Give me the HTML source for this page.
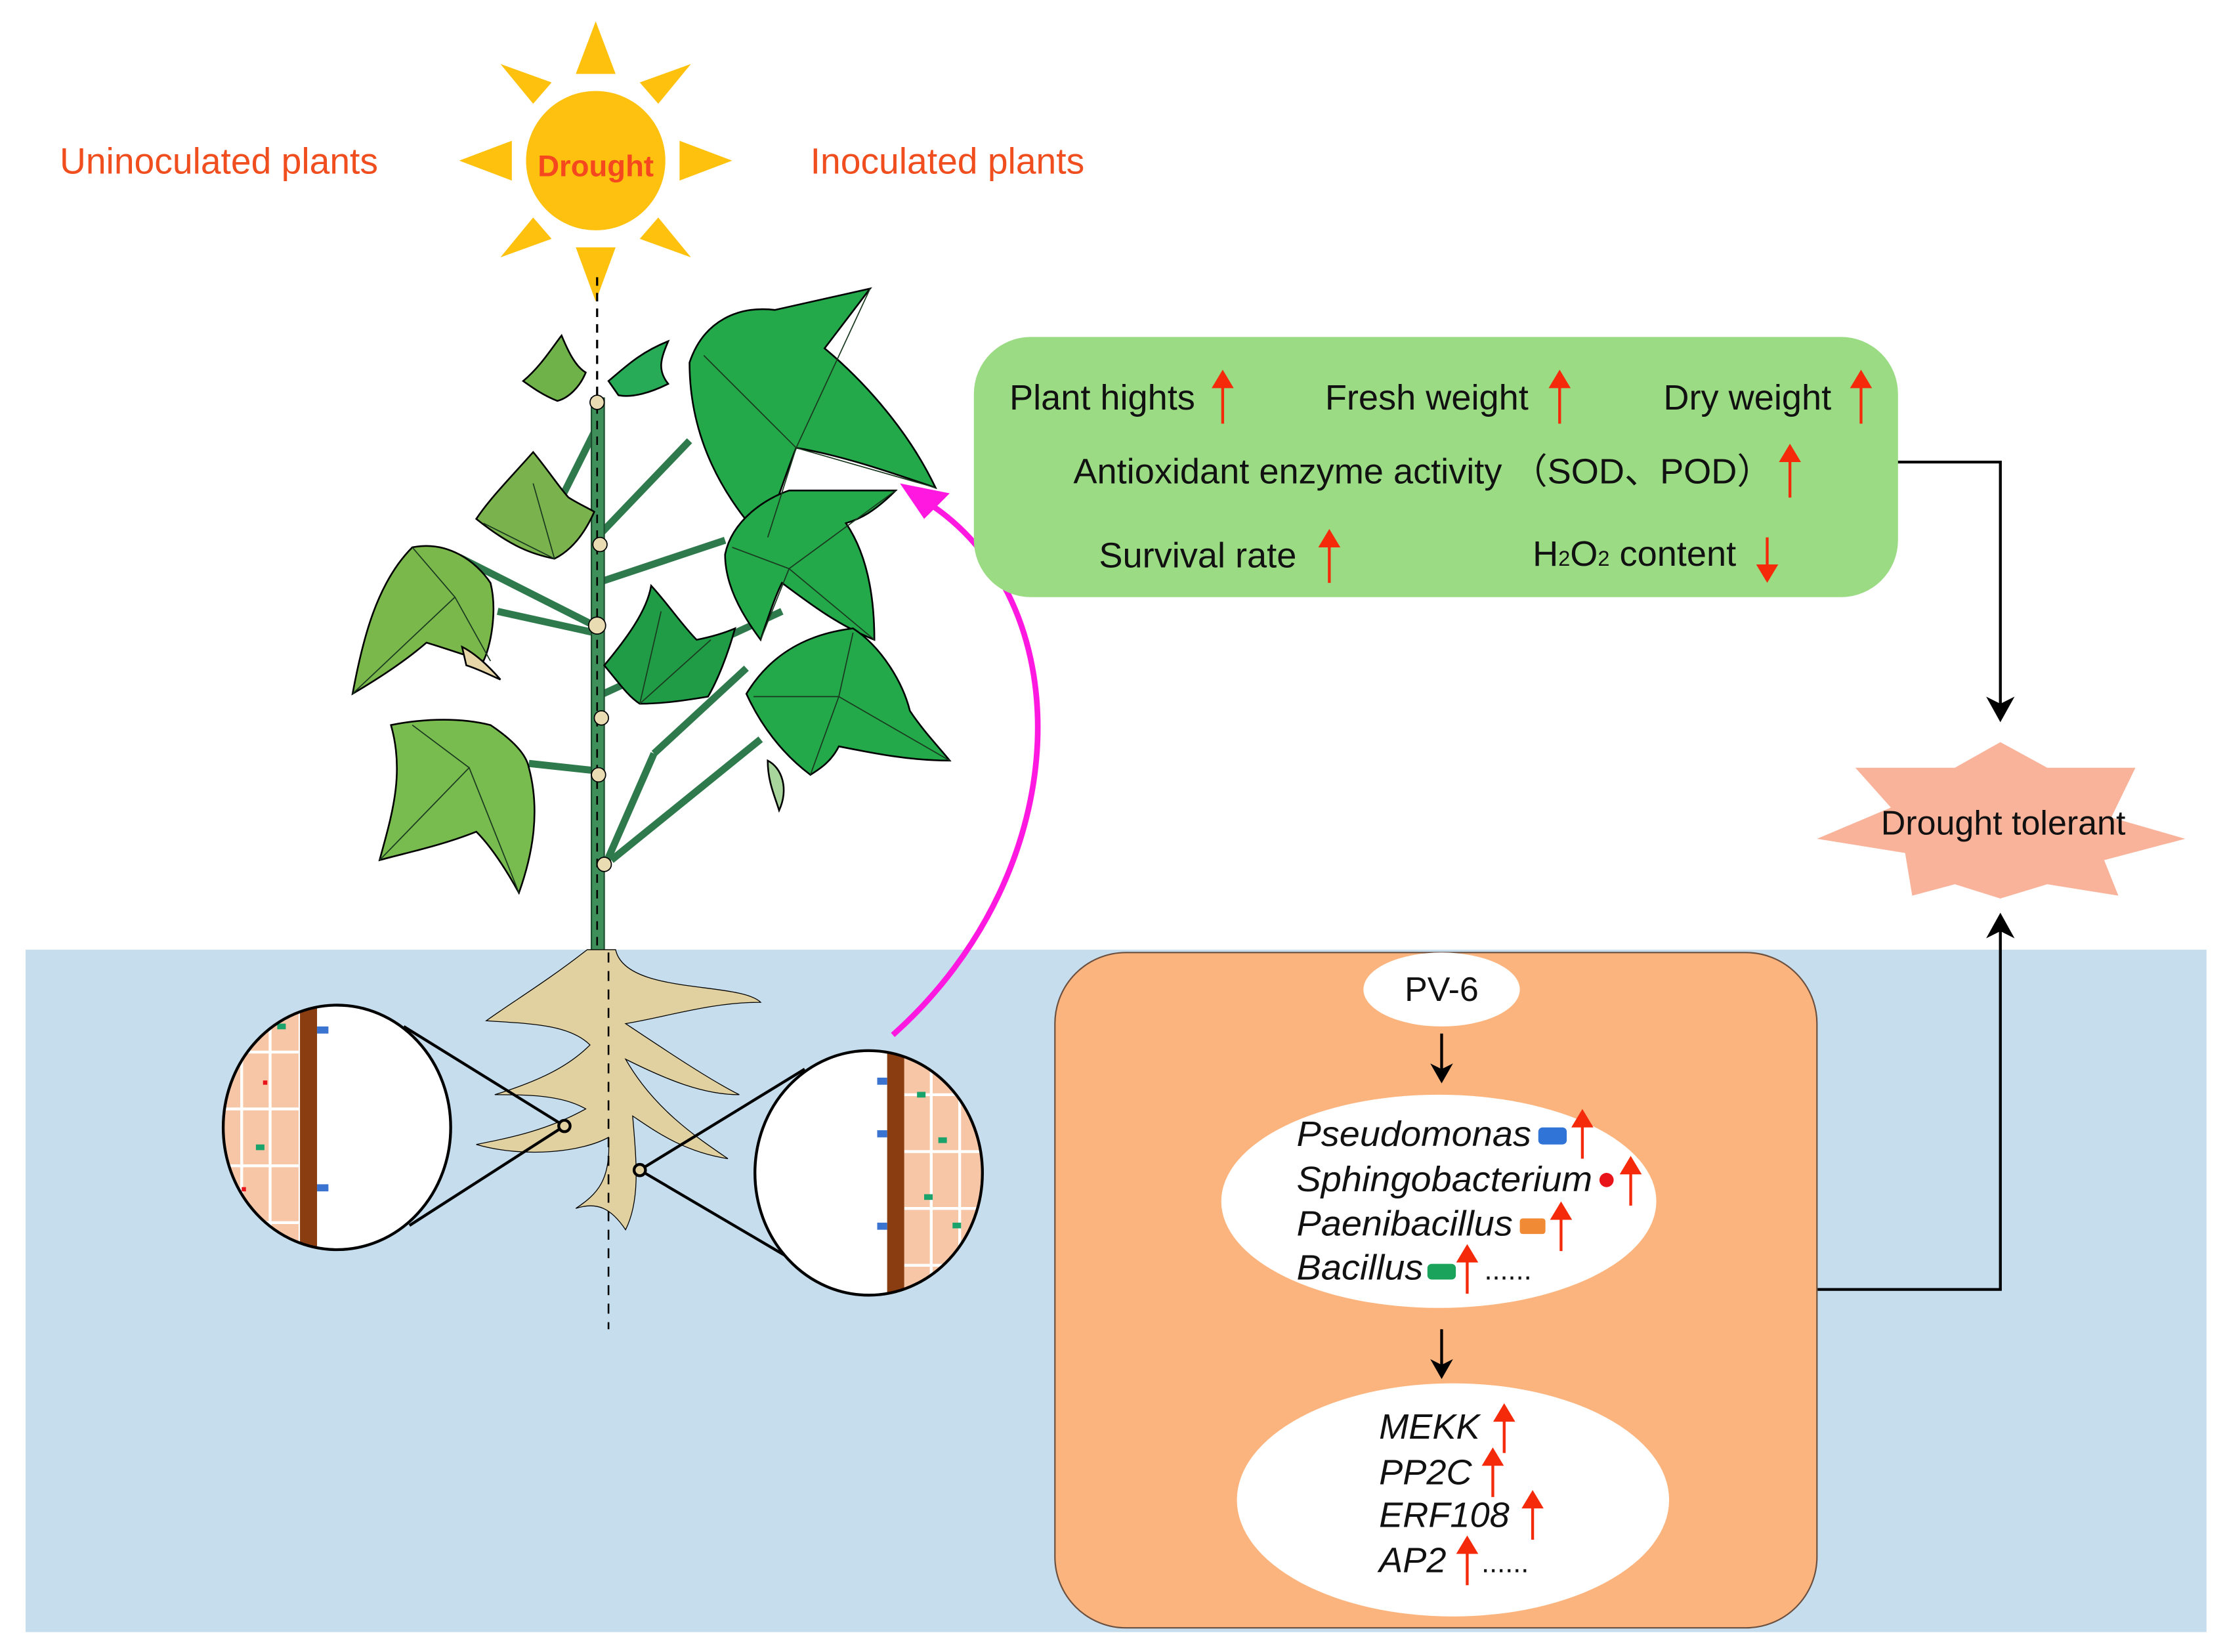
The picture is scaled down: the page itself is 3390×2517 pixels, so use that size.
<!DOCTYPE html>
<html><head><meta charset="utf-8"><style>
html,body{margin:0;padding:0;background:#fff}
svg{display:block}
text{font-family:"Liberation Sans",Arial,sans-serif}
</style></head><body>
<svg width="3390" height="2517" viewBox="0 0 1565 1162" preserveAspectRatio="none" xmlns="http://www.w3.org/2000/svg">
<rect x="0" y="0" width="1565" height="1162" fill="#fff"/>
<rect x="18" y="668" width="1534" height="480" fill="#c6ddee"/>

<!-- sun -->
<g fill="#fec10d">
<circle cx="419" cy="113" r="49" fill="#fec10f"/>
<polygon points="405,52 419,15 433,52"/>
<polygon points="405,174 419,212 433,174"/>
<polygon points="360,99 323,113 360,127"/>
<polygon points="478,99 515,113 478,127"/>
<polygon points="375,73 352,45 388,58"/>
<polygon points="463,73 486,45 450,58"/>
<polygon points="375,153 352,181 388,168"/>
<polygon points="463,153 486,181 450,168"/>
</g>
<text x="419" y="124" font-size="21" font-weight="bold" fill="#f5481f" text-anchor="middle">Drought</text>
<text x="42" y="122" font-size="25.5" fill="#f04e1e">Uninoculated plants</text>
<text x="570" y="122" font-size="25.5" fill="#f04e1e">Inoculated plants</text>

<line x1="420" y1="195" x2="420" y2="290" stroke="#000" stroke-width="1.5" stroke-dasharray="6,5"/>

<g stroke="#2f7a4c" stroke-width="5" fill="none">
<line x1="323" y1="392" x2="418" y2="440"/>
<line x1="350" y1="430" x2="418" y2="445"/>
<line x1="418" y1="380" x2="485" y2="310"/>
<line x1="420" y1="410" x2="510" y2="380"/>
<line x1="420" y1="490" x2="550" y2="430"/>
<line x1="372" y1="537" x2="418" y2="542"/>
<line x1="425" y1="610" x2="460" y2="530" />
<line x1="460" y1="530" x2="525" y2="470"/>
<line x1="430" y1="605" x2="535" y2="520"/>
<line x1="420" y1="300" x2="395" y2="350"/>
</g>
<rect x="416" y="280" width="9" height="390" fill="#3e8f5a" stroke="#1e4d2f" stroke-width="1"/>
<line x1="420" y1="285" x2="420" y2="668" stroke="#000" stroke-width="1.2" stroke-dasharray="6,5"/>

<g stroke="#000" stroke-width="1.2">
<path d="M485,255 C495,225 520,215 545,218 L612,203 L580,245 C610,270 640,305 658,343 C620,330 590,320 560,315 C550,340 545,360 535,378 C510,350 485,310 485,255 Z" fill="#23a84a"/>
<path d="M510,390 C515,365 540,350 555,345 L630,345 C615,360 605,365 595,368 C610,390 615,420 615,450 C590,440 570,425 550,410 C545,420 540,435 535,450 C520,430 510,410 510,390 Z" fill="#23a84a"/>
<path d="M525,488 C545,455 575,445 600,442 C620,455 635,480 640,500 C650,515 660,525 668,535 C640,535 615,530 590,525 C585,535 578,540 570,545 C550,530 535,510 525,488 Z" fill="#23a84a"/>
<path d="M425,468 C440,450 455,430 458,412 C470,425 480,440 490,450 C500,448 510,445 517,442 C512,460 505,478 498,490 C480,493 465,495 450,495 C442,490 435,480 425,468 Z" fill="#1f9c45"/>
<path d="M248,488 C255,450 265,410 290,385 C315,380 335,395 345,410 C350,430 345,455 340,465 C325,460 310,455 300,452 C285,465 265,478 248,488 Z" fill="#7bb84c"/>
<path d="M275,510 C300,505 325,505 345,510 C360,520 370,530 372,540 C380,570 375,600 365,628 C355,610 345,595 335,585 C310,595 285,600 267,605 C275,575 285,545 275,510 Z" fill="#78bb4f"/>
<path d="M335,365 C345,350 360,335 375,318 C385,330 395,345 400,350 C408,355 415,358 418,360 C410,378 400,388 390,393 C375,390 360,385 335,365 Z" fill="#7ab34e"/>
<path d="M368,268 C380,258 388,245 395,236 C400,248 405,258 412,262 C408,272 400,280 392,282 C382,278 375,273 368,268 Z" fill="#6fb24a"/>
<path d="M428,268 C440,258 450,248 470,240 C465,252 462,260 470,270 C458,276 445,280 435,278 Z" fill="#27ab56"/>
<path d="M325,455 C335,460 345,470 352,478 C345,475 335,470 328,468 Z" fill="#e6d6a8"/>
<path d="M540,535 C550,540 555,555 548,570 C545,560 540,550 540,535 Z" fill="#a7d59b"/>
</g>
<g stroke="#1a3a1f" stroke-width="0.8" fill="none">
<path d="M540,378 L560,315 L612,203 M560,315 L658,343 M560,315 L495,250"/>
<path d="M535,450 L555,400 L630,345 M555,400 L615,450 M555,400 L515,385"/>
<path d="M570,545 L590,490 L668,535 M590,490 L530,490 M590,490 L600,445"/>
<path d="M248,488 L320,420 L290,385 M320,420 L345,465"/>
<path d="M267,605 L330,540 L365,628 M330,540 L290,510"/>
<path d="M390,393 L375,340 M390,393 L340,368"/>
<path d="M450,495 L465,430 M450,495 L500,450"/>
</g>
<g fill="#e9dcb2" stroke="#000" stroke-width="0.8">
<circle cx="420" cy="283" r="5"/><circle cx="422" cy="383" r="5"/><circle cx="420" cy="440" r="6"/>
<circle cx="423" cy="505" r="5"/><circle cx="421" cy="545" r="5"/><circle cx="425" cy="608" r="5"/>
</g>

<g fill="#e1d1a0" stroke="#000" stroke-width="0.6">
<path d="M413,668 L433,668 C440,700 520,690 535,705 C500,705 470,715 440,720 C470,740 500,760 520,770 C495,770 470,760 440,745 C460,780 490,800 512,815 C480,810 460,795 445,785 C448,820 450,845 440,865 C430,850 420,845 405,850 C420,840 430,830 428,800 C410,810 370,815 335,805 C360,800 385,795 412,780 C395,770 370,770 348,770 C380,760 400,750 415,735 C400,720 370,720 342,718 C360,705 385,690 413,668 Z"/>
</g>
<line x1="428" y1="670" x2="428" y2="935" stroke="#000" stroke-width="1.2" stroke-dasharray="7,6"/>

<g stroke="#000" stroke-width="2" fill="none">
<line x1="284" y1="722" x2="397" y2="792"/>
<line x1="288" y1="862" x2="397" y2="792"/>
<line x1="450" y1="823" x2="566" y2="752"/>
<line x1="450" y1="823" x2="586" y2="903"/>
<circle cx="397" cy="792" r="4" fill="#e1d1a0"/>
<circle cx="450" cy="823" r="4" fill="#e1d1a0"/>
</g>
<clipPath id="cl"><ellipse cx="237" cy="793" rx="80" ry="86"/></clipPath>
<clipPath id="cr"><ellipse cx="611" cy="825" rx="80" ry="86"/></clipPath>
<g clip-path="url(#cl)">
<rect x="150" y="700" width="180" height="190" fill="#fff"/>
<rect x="150" y="700" width="60" height="190" fill="#f6c6a6"/>
<g stroke="#fff" stroke-width="2"><line x1="170" y1="700" x2="170" y2="890"/><line x1="190" y1="700" x2="190" y2="890"/>
<line x1="150" y1="740" x2="210" y2="740"/><line x1="150" y1="780" x2="210" y2="780"/><line x1="150" y1="820" x2="210" y2="820"/><line x1="150" y1="860" x2="210" y2="860"/></g>
<rect x="211" y="700" width="12" height="190" fill="#8b3d12"/>
<rect x="223" y="722" width="8" height="5" fill="#3b74d0"/><rect x="223" y="833" width="8" height="5" fill="#3b74d0"/>
<g fill="#1aa36b"><rect x="195" y="720" width="6" height="4"/><rect x="180" y="805" width="6" height="4"/></g>
<g fill="#e8141a"><rect x="185" y="760" width="3" height="3"/><rect x="170" y="835" width="3" height="3"/></g>
</g>
<g clip-path="url(#cr)">
<rect x="520" y="730" width="180" height="190" fill="#fff"/>
<rect x="636" y="730" width="60" height="190" fill="#f6c6a6"/>
<g stroke="#fff" stroke-width="2"><line x1="655" y1="730" x2="655" y2="920"/><line x1="675" y1="730" x2="675" y2="920"/>
<line x1="636" y1="770" x2="696" y2="770"/><line x1="636" y1="810" x2="696" y2="810"/><line x1="636" y1="850" x2="696" y2="850"/><line x1="636" y1="890" x2="696" y2="890"/></g>
<rect x="624" y="730" width="12" height="190" fill="#8b3d12"/>
<g fill="#3b74d0"><rect x="617" y="758" width="7" height="5"/><rect x="617" y="795" width="7" height="5"/><rect x="617" y="860" width="7" height="5"/></g>
<g fill="#1aa36b"><rect x="645" y="768" width="6" height="4"/><rect x="660" y="800" width="6" height="4"/><rect x="650" y="840" width="6" height="4"/><rect x="670" y="860" width="6" height="4"/></g>
</g>
<ellipse cx="237" cy="793" rx="80" ry="86" fill="none" stroke="#000" stroke-width="2"/>
<ellipse cx="611" cy="825" rx="80" ry="86" fill="none" stroke="#000" stroke-width="2"/>

<path d="M628,728 C760,610 760,420 650,352" fill="none" stroke="#ff19e0" stroke-width="4"/>
<polygon points="633,340 668,347 650,365" fill="#ff19e0"/>

<rect x="685" y="237" width="650" height="183" rx="40" fill="#9adb84"/>
<g font-size="25" fill="#111">
<text x="710" y="288">Plant hights</text>
<text x="932" y="288">Fresh weight</text>
<text x="1170" y="288">Dry weight</text>
<text x="755" y="340">Antioxidant enzyme activity （SOD、POD）</text>
<text x="773" y="399">Survival rate</text>
<text x="1078" y="398">H<tspan font-size="15">2</tspan>O<tspan font-size="15">2</tspan> content</text>
</g>
<g stroke="#f52a0a" stroke-width="2" fill="#f52a0a">
<line x1="860" y1="298" x2="860" y2="270"/><polygon points="854,272 860,262 866,272"/>
<line x1="1097" y1="298" x2="1097" y2="270"/><polygon points="1091,272 1097,262 1103,272"/>
<line x1="1309" y1="298" x2="1309" y2="270"/><polygon points="1303,272 1309,262 1315,272"/>
<line x1="1259" y1="350" x2="1259" y2="322"/><polygon points="1253,324 1259,314 1265,324"/>
<line x1="935" y1="410" x2="935" y2="382"/><polygon points="929,384 935,374 941,384"/>
<line x1="1243" y1="378" x2="1243" y2="400"/><polygon points="1237,398 1243,408 1249,398"/>
</g>

<polyline points="1335,325 1407,325 1407,505" fill="none" stroke="#000" stroke-width="2"/>
<polygon points="1397,490 1407,508 1417,490 1407,495" fill="#000"/>
<polyline points="1278,907 1407,907 1407,645" fill="none" stroke="#000" stroke-width="2"/>
<polygon points="1397,660 1407,642 1417,660 1407,655" fill="#000"/>

<polygon points="1407,522 1440,540 1502,540 1485,575 1537,590 1480,605 1490,630 1440,622 1407,632 1375,622 1345,630 1340,600 1278,590 1330,568 1305,540 1375,540" fill="#f9b39a"/>
<text x="1409" y="587" font-size="24" fill="#111" text-anchor="middle">Drought tolerant</text>

<rect x="742" y="670" width="536" height="475" rx="50" fill="#fbb47d" stroke="#6b5040" stroke-width="1"/>
<ellipse cx="1014" cy="696" rx="55" ry="26" fill="#fff"/>
<text x="1014" y="704" font-size="24" fill="#111" text-anchor="middle">PV-6</text>
<line x1="1014" y1="727" x2="1014" y2="752" stroke="#000" stroke-width="2"/>
<polygon points="1006,748 1014,762 1022,748 1014,752" fill="#000"/>
<ellipse cx="1012" cy="845" rx="153" ry="75" fill="#fff"/>
<line x1="1014" y1="935" x2="1014" y2="960" stroke="#000" stroke-width="2"/>
<polygon points="1006,956 1014,970 1022,956 1014,960" fill="#000"/>
<ellipse cx="1022" cy="1055" rx="152" ry="82" fill="#fff"/>
<g font-size="25" font-style="italic" fill="#111">
<text x="912" y="806" textLength="165" lengthAdjust="spacingAndGlyphs">Pseudomonas</text>
<text x="912" y="838" textLength="208" lengthAdjust="spacingAndGlyphs">Sphingobacterium</text>
<text x="912" y="869" textLength="152" lengthAdjust="spacingAndGlyphs">Paenibacillus</text>
<text x="912" y="900" textLength="89" lengthAdjust="spacingAndGlyphs">Bacillus</text>
<text x="970" y="1012">MEKK</text>
<text x="970" y="1044">PP2C</text>
<text x="970" y="1074">ERF108</text>
<text x="970" y="1106">AP2</text>
</g>
<text x="1044" y="900" font-size="20" fill="#111">......</text>
<text x="1042" y="1106" font-size="20" fill="#111">......</text>
<rect x="1082" y="793" width="20" height="12" rx="3" fill="#2f74d6"/>
<circle cx="1130" cy="830" r="5" fill="#e8141a"/>
<rect x="1069" y="857" width="18" height="11" rx="2" fill="#f08a35"/>
<rect x="1004" y="889" width="20" height="11" rx="3" fill="#1aa35b"/>
<g stroke="#f52a0a" stroke-width="2" fill="#f52a0a">
<line x1="1113" y1="815" x2="1113" y2="790"/><polygon points="1107,792 1113,782 1119,792"/>
<line x1="1147" y1="848" x2="1147" y2="823"/><polygon points="1141,825 1147,815 1153,825"/>
<line x1="1098" y1="880" x2="1098" y2="855"/><polygon points="1092,857 1098,847 1104,857"/>
<line x1="1032" y1="910" x2="1032" y2="885"/><polygon points="1026,887 1032,877 1038,887"/>
<line x1="1058" y1="1022" x2="1058" y2="997"/><polygon points="1052,999 1058,989 1064,999"/>
<line x1="1050" y1="1053" x2="1050" y2="1028"/><polygon points="1044,1030 1050,1020 1056,1030"/>
<line x1="1078" y1="1083" x2="1078" y2="1058"/><polygon points="1072,1060 1078,1050 1084,1060"/>
<line x1="1032" y1="1115" x2="1032" y2="1090"/><polygon points="1026,1092 1032,1082 1038,1092"/>
</g>
</svg>
</body></html>
